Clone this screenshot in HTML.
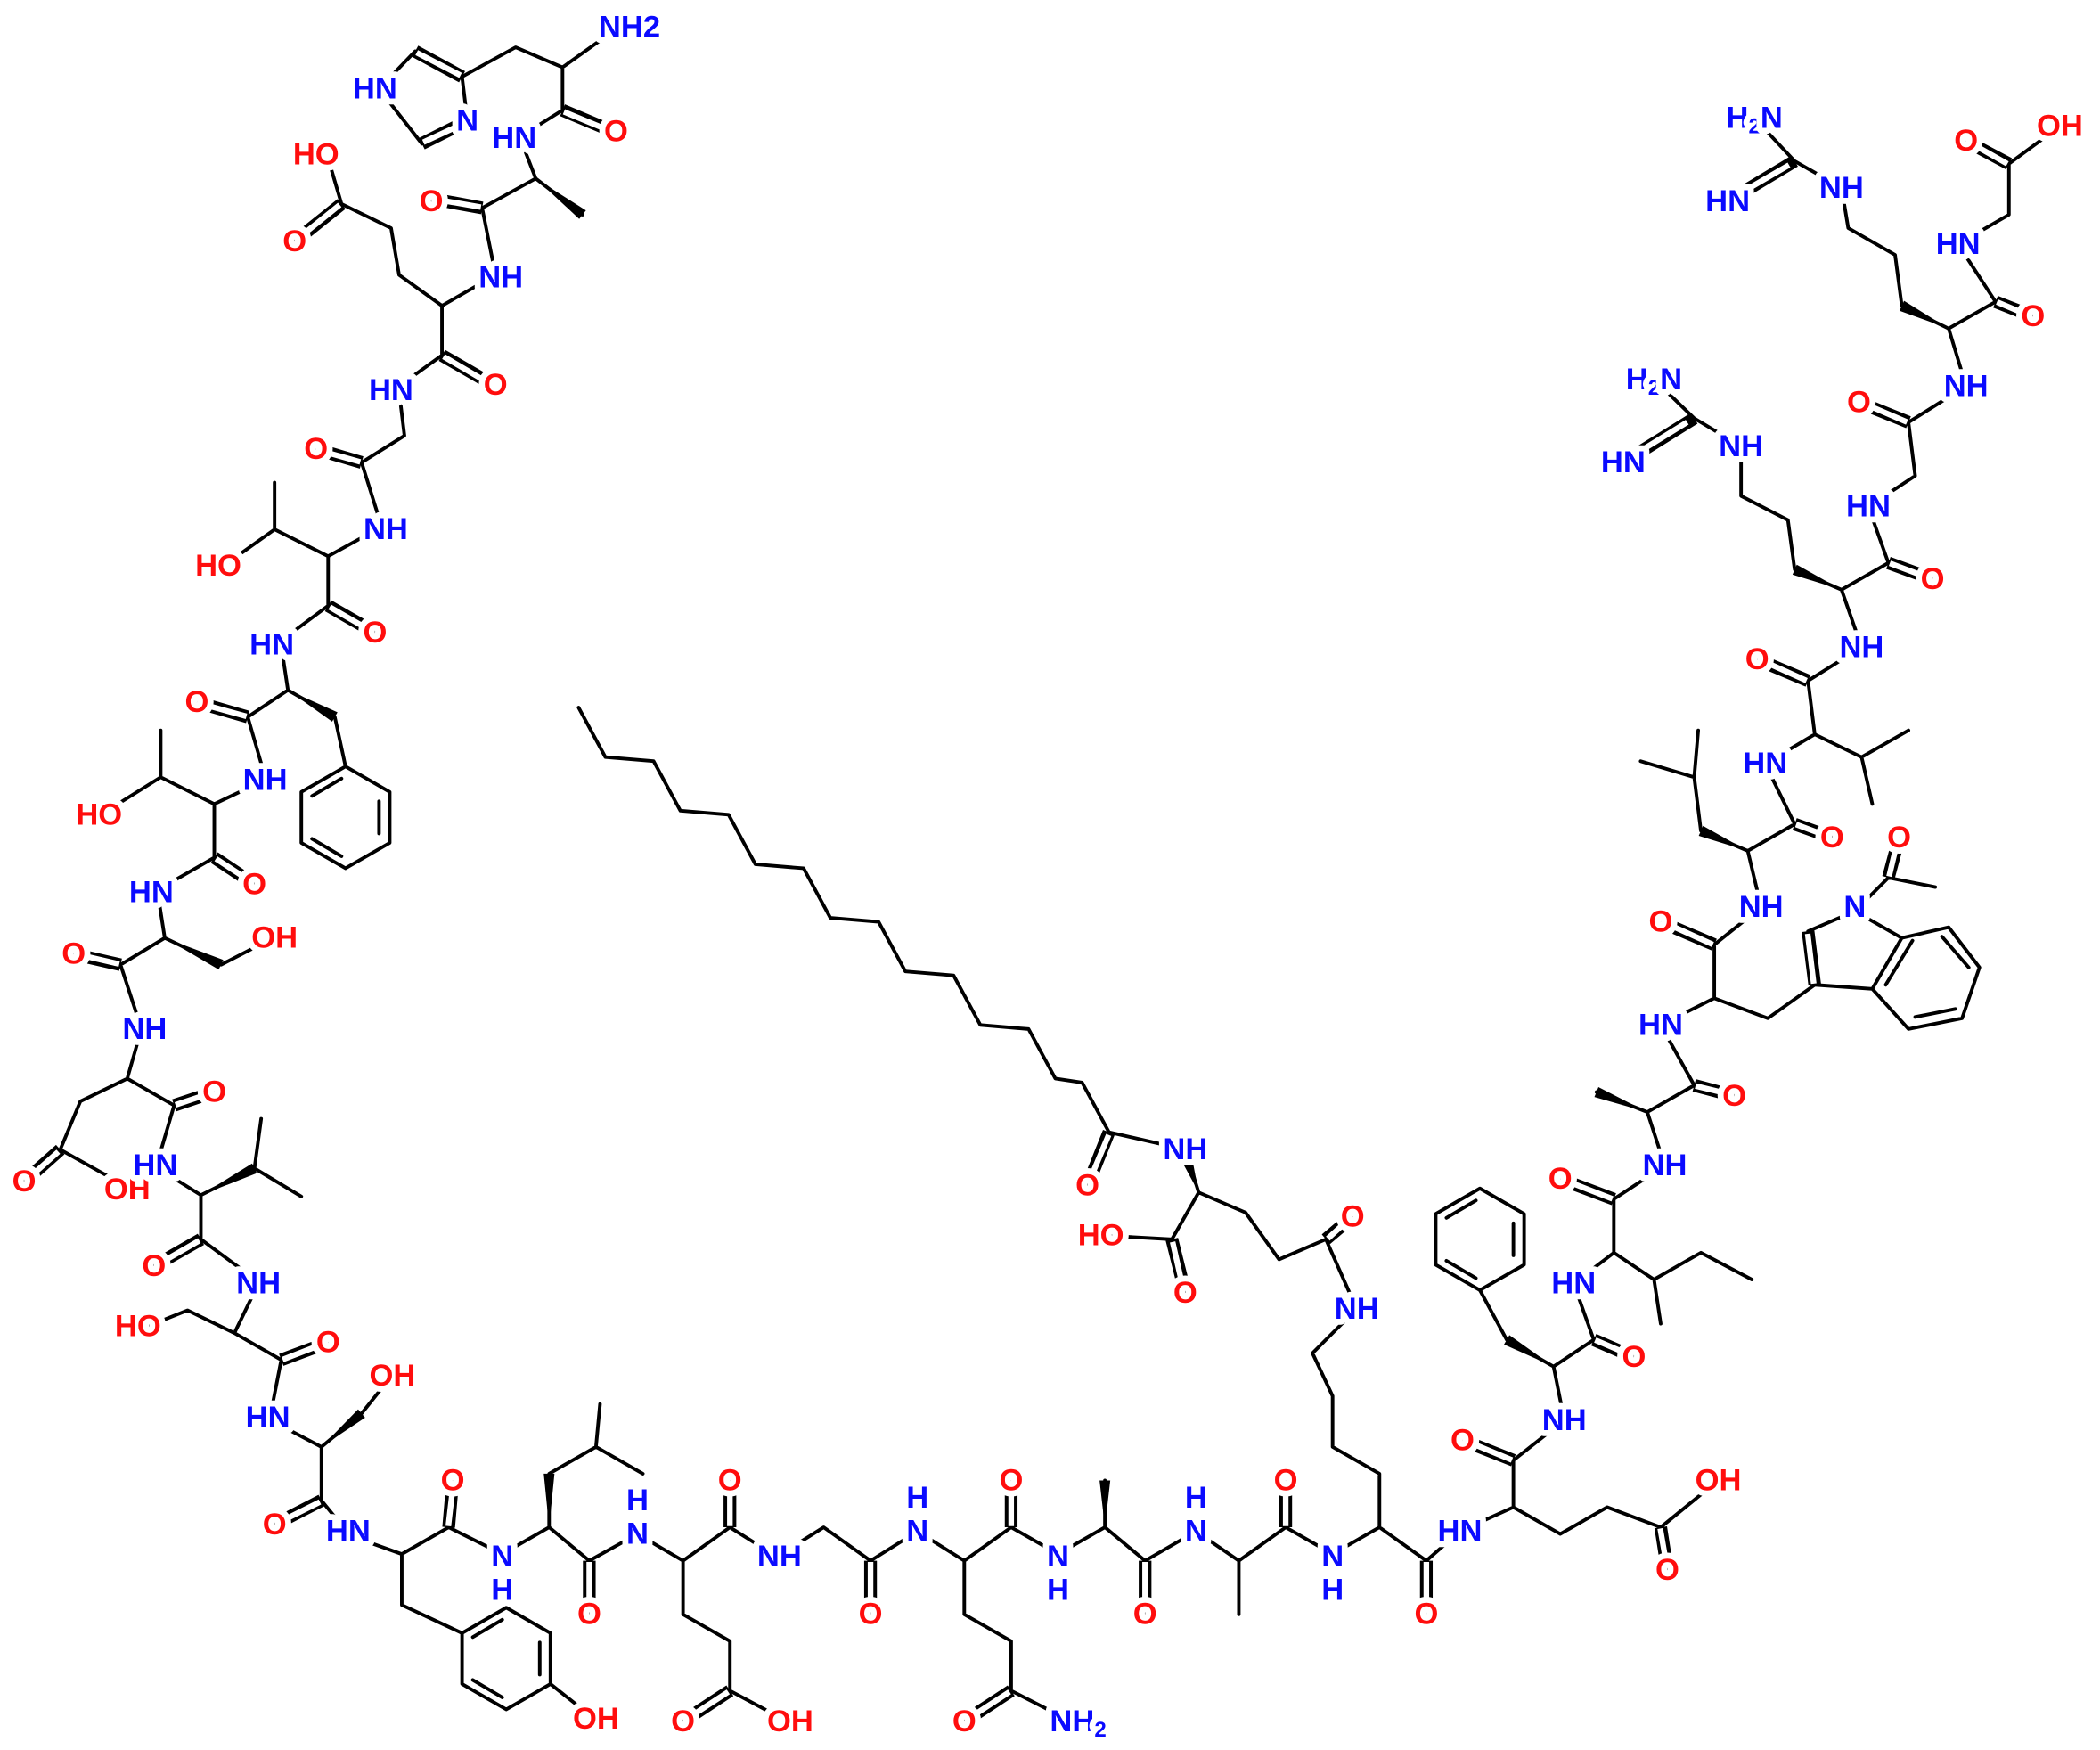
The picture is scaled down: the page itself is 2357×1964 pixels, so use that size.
<!DOCTYPE html>
<html><head><meta charset="utf-8"><style>
html,body{margin:0;padding:0;background:#fff;}
svg{display:block}
.s{stroke:#000;stroke-width:2.6;fill:none;stroke-linecap:round;stroke-linejoin:round}
.d1{stroke:#000;stroke-width:9.5;fill:none;stroke-linecap:butt}
.d2{stroke:#fff;stroke-width:4.2;fill:none;stroke-linecap:square}
text{font-family:"Liberation Sans",sans-serif;font-weight:bold;font-size:23px;text-anchor:middle;dominant-baseline:central;paint-order:stroke;stroke:#fff;stroke-width:9px;stroke-linejoin:round}
.b{fill:#0a0aff}.r{fill:#ff0d0d}
</style></head><body>
<svg width="2357" height="1964" viewBox="0 0 1568 1306" xmlns="http://www.w3.org/2000/svg">
<path class="s" d="
M283 66 L310 38 M345 57 L349 90 M315 107 L283 66
M345 57 L385 35 L420 50 L455 25 M420 50 L420 82 L388 102
M388 102 L400 133 L435 160 M400 133 L360 155 L370 205
M370 205 L330 228 L298 205 L292 170 L255 152 L245 118
M330 228 L330 265 L298 288
M298 292 L302 325 L270 345 L285 393
M285 393 L245 415 L205 395 L205 360 M205 395 L170 420 M245 415 L245 452 L210 478
M210 482 L215 515 L250 535 L258 572 M215 515 L185 535 L198 580
M198 582 L160 600 L120 580 L120 545 M120 580 L80 605 M160 600 L160 640 L118 664
M118 668 L123 700 L165 720 L200 702 M123 700 L90 720 L105 766
M105 770 L95 805 L60 822 L45 858 L88 882 M95 805 L130 825 L118 866
M118 872 L150 892 L190 872 L225 893 M190 872 L195 835 M150 892 L150 925 L192 956
M192 960 L175 995 L140 978 L110 990 M175 995 L210 1015 L202 1056
M202 1060 L240 1080 L270 1055 L290 1030 M240 1080 L240 1120 L258 1142
M258 1145 L300 1160 L300 1198 L345 1219 M300 1160 L335 1140 L375 1160
M375 1160 L410 1140 L410 1100 L445 1080 L480 1100 M445 1080 L448 1048 M410 1140 L440 1165 L476 1145
M476 1145 L510 1165 L510 1205 L545 1225 L545 1262 L588 1285 M510 1165 L545 1140 L580 1162
M580 1162 L615 1140 L650 1165 L685 1143
M685 1143 L720 1165 L720 1205 L755 1225 L755 1262 L800 1285 M720 1165 L755 1140 L790 1160
M790 1160 L825 1140 L825 1105 M825 1140 L855 1165 L893 1143
M893 1143 L925 1165 L925 1205 M925 1165 L960 1140 L995 1160
M995 1160 L1030 1140 L1030 1100 L995 1080 L995 1042 L980 1010 L1013 977 M1030 1140 L1065 1165 L1090 1143
M1090 1143 L1130 1125 L1165 1145 L1200 1125 L1240 1140 L1283 1105 M1130 1125 L1130 1090 L1168 1060
M1168 1060 L1160 1020 L1125 1000 L1105 963 M1160 1020 L1190 1000 L1175 958
M1175 958 L1205 935 L1235 955 L1240 988 M1235 955 L1270 935 L1308 955 M1205 935 L1205 895 L1243 870
M1243 870 L1230 830 L1192 815 M1230 830 L1265 810 L1240 765
M1240 765 L1280 745 L1320 760 L1355 735 M1280 745 L1280 705 L1315 677
M1355 735 L1398 738 L1420 700 L1385 680 L1350 695 M1398 738 L1425 768 L1465 760 L1478 722 L1455 692 L1420 700
M1385 680 L1410 655 L1445 662
M1315 677 L1305 635 L1270 620 L1265 580 L1225 568 M1265 580 L1268 545 M1305 635 L1340 615 L1318 570
M1318 570 L1355 548 L1390 565 L1425 545 M1390 565 L1398 600 M1355 548 L1350 508 L1390 483
M1390 483 L1375 440 L1340 425 L1335 388 L1300 370 L1300 333 L1265 312 L1235 283 M1375 440 L1410 420 L1395 378
M1395 378 L1430 355 L1425 315 L1468 288
M1468 288 L1455 245 L1420 228 L1415 190 L1380 170 L1375 140 L1340 120 L1310 88 M1455 245 L1490 225 L1462 182
M1462 182 L1500 160 L1500 122 L1538 94
M432 528 L452 565 L488 568 L508 605 L544 608 L564 645 L600 648 L620 685 L656 688 L676 725 L712 728 L732 765 L768 768 L788 805 L808 808 L828 845 L885 858
M885 858 L895 890 L875 925 L822 922 M895 890 L930 905 L955 940 L990 925 L1013 977
"/>
<path class="s" d="M258 572 L291 591 L291 629 L258 648 L225 629 L225 591 Z M283 598 L283 622 M255 639 L233 626 M233 594 L255 581
M378 1200 L411 1219 L411 1257 L378 1276 L345 1257 L345 1219 Z M403 1226 L403 1250 M375 1267 L353 1254 M353 1222 L375 1209 M411 1257 L440 1280
M1105 887 L1138 906 L1138 944 L1105 963 L1072 944 L1072 906 Z M1130 913 L1130 937 M1102 954 L1080 941 M1080 909 L1102 896
M1408 735 L1428 702 M1430 759 L1460 753 M1470 722 L1450 699"/>
<g fill="#000">
<polygon points="400,133 437.5,156.8 432.5,163.2"/>
<polygon points="215,515 252,531.5 248,538.5"/>
<polygon points="123,700 166.7,716.4 163.3,723.6"/>
<polygon points="150,892 188.2,868.4 191.8,875.6"/>
<polygon points="240,1080 267.4,1051.9 272.6,1058.1"/>
<polygon points="410,1140 406,1100 414,1100"/>
<polygon points="825,1140 821,1105 829,1105"/>
<polygon points="1160,1020 1127,996.5 1123,1003.5"/>
<polygon points="1230,830 1193.5,811.3 1190.5,818.7"/>
<polygon points="1305,635 1271.6,616.3 1268.4,623.7"/>
<polygon points="1375,440 1341.6,421.3 1338.4,428.7"/>
<polygon points="1455,245 1421.7,224.3 1418.3,231.7"/>
<polygon points="895,890 882,866 890,864"/>
</g>
<g>
<path class="d1" d="M310 38 L345 57 M349 90 L315 107 M420 82 L458 98 M360 155 L322 148 M255 152 L220 180 M330 265 L368 287 M270 345 L236 335 M245 452 L280 472 M185 535 L147 524 M160 640 L190 660 M90 720 L55 712 M45 858 L18 882 M130 825 L160 815 M150 925 L115 945 M210 1015 L245 1002 M240 1120 L205 1138 M335 1140 L338 1105 M440 1165 L440 1205 M545 1262 L510 1285 M545 1140 L545 1105 M650 1165 L650 1205 M755 1262 L720 1285 M755 1140 L755 1105 M855 1165 L855 1205 M960 1140 L960 1105 M1065 1165 L1065 1205 M1240 1140 L1245 1172 M1130 1090 L1092 1075 M1190 1000 L1220 1013 M1205 895 L1165 880 M1265 810 L1295 818 M1355 735 L1350 695 M1410 655 L1418 625 M1280 705 L1240 688 M1340 615 L1368 625 M1350 508 L1312 492 M1410 420 L1443 432 M1265 312 L1212 345 M1425 315 L1388 300 M1340 120 L1290 150 M1490 225 L1518 236 M1500 122 L1468 105 M828 845 L812 885 M875 925 L885 965 M990 925 L1010 908"/>
<path class="d2" d="M313 40 L342 55 M346 92 L318 105 M423 84 L452 96 M357 154 L328 149 M252 154 L226 175 M333 267 L362 284 M267 344 L242 337 M248 454 L274 469 M182 534 L153 526 M163 642 L186 657 M87 719 L61 713 M42 861 L24 877 M133 824 L154 817 M147 927 L121 942 M213 1014 L239 1004 M237 1122 L211 1135 M335 1137 L338 1111 M440 1168 L440 1199 M542 1264 L516 1281 M545 1137 L545 1111 M650 1168 L650 1199 M752 1264 L726 1281 M755 1137 L755 1111 M855 1168 L855 1199 M960 1137 L960 1111 M1065 1168 L1065 1199 M1240 1143 L1244 1166 M1127 1089 L1098 1077 M1193 1001 L1214 1010 M1202 894 L1171 882 M1268 811 L1289 816 M1354 732 L1350 699 M1411 652 L1416 631 M1277 704 L1246 690 M1343 616 L1362 623 M1347 507 L1318 494 M1413 421 L1437 430 M1258 316 L1219 340 M1422 314 L1394 302 M1334 124 L1296 146 M1493 226 L1512 234 M1497 121 L1474 108 M827 849 L814 880 M876 929 L883 960 M993 923 L1005 912"/>
</g>
<g>
<text class="b" x="470" y="20">NH2</text>
<text class="b" x="280" y="66">HN</text>
<text class="b" x="349" y="90">N</text>
<text class="b" x="384" y="103">HN</text>
<text class="r" x="460" y="98">O</text>
<text class="r" x="322" y="150">O</text>
<text class="b" x="374" y="207">NH</text>
<text class="r" x="236" y="115">HO</text>
<text class="r" x="220" y="180">O</text>
<text class="b" x="292" y="291">HN</text>
<text class="r" x="370" y="287">O</text>
<text class="r" x="236" y="335">O</text>
<text class="b" x="288" y="395">NH</text>
<text class="r" x="163" y="422">HO</text>
<text class="r" x="280" y="472">O</text>
<text class="b" x="203" y="481">HN</text>
<text class="r" x="147" y="524">O</text>
<text class="b" x="198" y="582">NH</text>
<text class="r" x="74" y="608">HO</text>
<text class="r" x="190" y="660">O</text>
<text class="b" x="113" y="666">HN</text>
<text class="r" x="205" y="700">OH</text>
<text class="r" x="55" y="712">O</text>
<text class="b" x="108" y="768">NH</text>
<text class="r" x="160" y="815">O</text>
<text class="r" x="18" y="882">O</text>
<text class="r" x="95" y="888">OH</text>
<text class="b" x="116" y="870">HN</text>
<text class="r" x="115" y="945">O</text>
<text class="b" x="193" y="958">NH</text>
<text class="r" x="103" y="990">HO</text>
<text class="r" x="245" y="1002">O</text>
<text class="b" x="200" y="1058">HN</text>
<text class="r" x="293" y="1027">OH</text>
<text class="r" x="205" y="1138">O</text>
<text class="b" x="260" y="1143">HN</text>
<text class="r" x="338" y="1105">O</text>
<text class="b" x="375" y="1162">N</text><text class="b" x="375" y="1187">H</text>
<text class="b" x="476" y="1120">H</text><text class="b" x="476" y="1145">N</text>
<text class="b" x="582" y="1162">NH</text>
<text class="b" x="685" y="1118">H</text><text class="b" x="685" y="1143">N</text>
<text class="b" x="790" y="1162">N</text><text class="b" x="790" y="1187">H</text>
<text class="b" x="893" y="1118">H</text><text class="b" x="893" y="1143">N</text>
<text class="b" x="995" y="1162">N</text><text class="b" x="995" y="1187">H</text>
<text class="b" x="1090" y="1143">HN</text>
<text class="r" x="440" y="1205">O</text>
<text class="r" x="545" y="1105">O</text>
<text class="r" x="510" y="1285">O</text>
<text class="r" x="590" y="1285">OH</text>
<text class="r" x="650" y="1205">O</text>
<text class="r" x="755" y="1105">O</text>
<text class="r" x="720" y="1285">O</text>
<text class="b" x="805" y="1285">NH<tspan font-size="16" dy="6">2</tspan></text>
<text class="r" x="855" y="1205">O</text>
<text class="r" x="960" y="1105">O</text>
<text class="r" x="1065" y="1205">O</text>
<text class="r" x="445" y="1283">OH</text>
<text class="r" x="1092" y="1075">O</text>
<text class="b" x="1168" y="1060">NH</text>
<text class="r" x="1283" y="1105">OH</text>
<text class="r" x="1245" y="1172">O</text>
<text class="r" x="1220" y="1013">O</text>
<text class="b" x="1175" y="958">HN</text>
<text class="r" x="1165" y="880">O</text>
<text class="b" x="1243" y="870">NH</text>
<text class="r" x="1295" y="818">O</text>
<text class="b" x="1240" y="765">HN</text>
<text class="r" x="1240" y="688">O</text>
<text class="b" x="1315" y="677">NH</text>
<text class="b" x="1385" y="677">N</text>
<text class="r" x="1418" y="625">O</text>
<text class="r" x="1368" y="625">O</text>
<text class="b" x="1318" y="570">HN</text>
<text class="r" x="1312" y="492">O</text>
<text class="b" x="1390" y="483">NH</text>
<text class="b" x="1395" y="378">HN</text>
<text class="r" x="1443" y="432">O</text>
<text class="b" x="1300" y="333">NH</text>
<text class="b" x="1235" y="283">H<tspan font-size="16" dy="6">2</tspan><tspan dy="-6">N</tspan></text>
<text class="b" x="1212" y="345">HN</text>
<text class="r" x="1388" y="300">O</text>
<text class="b" x="1468" y="288">NH</text>
<text class="b" x="1462" y="182">HN</text>
<text class="r" x="1518" y="236">O</text>
<text class="b" x="1375" y="140">NH</text>
<text class="b" x="1310" y="88">H<tspan font-size="16" dy="6">2</tspan><tspan dy="-6">N</tspan></text>
<text class="b" x="1290" y="150">HN</text>
<text class="r" x="1468" y="105">O</text>
<text class="r" x="1538" y="94">OH</text>
<text class="r" x="812" y="885">O</text>
<text class="b" x="885" y="858">NH</text>
<text class="r" x="822" y="922">HO</text>
<text class="r" x="885" y="965">O</text>
<text class="r" x="1010" y="908">O</text>
<text class="b" x="1013" y="977">NH</text>
</g>
</svg>
</body></html>
